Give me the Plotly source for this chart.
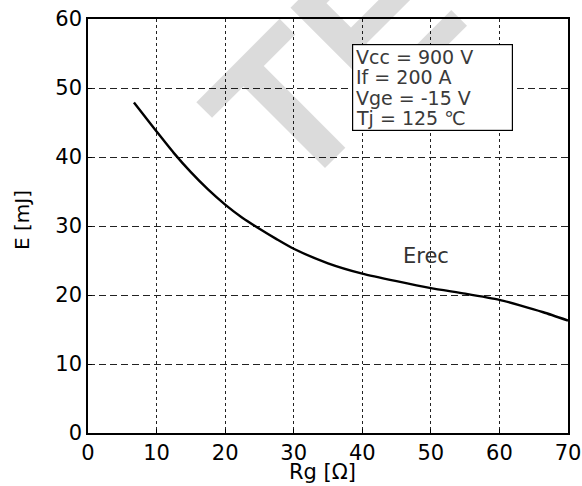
import plotly.graph_objects as go

# Data
rg = [6.7, 10, 12.5, 15, 17.5, 20, 22.5, 25, 27.5, 30, 35, 40, 45, 50, 55, 60, 63, 66.4, 70]
erec = [47.9, 43.7, 40.6, 37.8, 35.3, 33.1, 31.2, 29.6, 28.1, 26.7, 24.6, 23.1, 22.0, 21.0, 20.2, 19.3, 18.5, 17.5, 16.3]

x_ticks = [0, 10, 20, 30, 40, 50, 60, 70]
y_ticks = [0, 10, 20, 30, 40, 50, 60]
cond_lines = ["Vcc = 900 V", "If = 200 A", "Vge = -15 V", "Tj = 125 ℃"]
series_label = "Erec"
x_title = "Rg [Ω]"
y_title = "E [mJ]"

W, H = 582, 486
# plot area on screen: x 88..568, y 19..433
L, T = 88, 19
R = W - 568
B = H - 433
pw, ph = W - L - R, H - T - B


def px2paper(sx, sy):
    return (sx - L) / pw, (H - B - sy) / ph


FONT = "DejaVu Sans"

fig = go.Figure()
fig.add_trace(go.Scatter(
    x=rg, y=erec, mode="lines",
    line=dict(color="black", width=2.4, shape="spline", smoothing=0.6),
    showlegend=False, hoverinfo="skip",
))

annotations = []
# watermark (drawn first, semi-transparent)
wx, wy = px2paper(333, 61)
annotations.append(dict(
    text="<b>TE</b>", xref="paper", yref="paper", x=wx, y=wy,
    xanchor="center", yanchor="middle", showarrow=False, textangle=-45,
    font=dict(family="Liberation Sans", size=200, color="rgba(0,0,0,0.14)"),
))
# conditions box
bx, by = px2paper(351.7, 44)
annotations.append(dict(
    text=" ", xref="paper", yref="paper", x=bx, y=by, xanchor="left", yanchor="top",
    showarrow=False, width=159, height=85, bgcolor="white", bordercolor="black",
    borderwidth=1.2, borderpad=0, font=dict(size=10),
))
for i, line in enumerate(cond_lines):
    lx, ly = px2paper(354, 56.8 + 20.5 * i)
    annotations.append(dict(
        text=line, xref="paper", yref="paper", x=lx, y=ly, xanchor="left", yanchor="middle",
        showarrow=False, font=dict(family=FONT, size=19, color="#3a3a3a"),
    ))
ex, ey = px2paper(425.7, 256)
annotations.append(dict(
    text=series_label, xref="paper", yref="paper", x=ex, y=ey, xanchor="center", yanchor="middle",
    showarrow=False, font=dict(family=FONT, size=21, color="#333333"),
))
# axis titles
tx, ty = px2paper(322, 472)
annotations.append(dict(
    text=x_title, xref="paper", yref="paper", x=tx, y=ty, xanchor="center", yanchor="middle",
    showarrow=False, font=dict(family=FONT, size=21, color="black"),
))
tx, ty = px2paper(22, 220)
annotations.append(dict(
    text=y_title, xref="paper", yref="paper", x=tx, y=ty, xanchor="center", yanchor="middle",
    showarrow=False, textangle=-90, font=dict(family=FONT, size=20, color="black"),
))

axis_common = dict(
    showline=True, linecolor="black", linewidth=1.5, mirror=True,
    ticks="inside", ticklen=4, tickcolor="black", automargin=False,
    showgrid=True, gridcolor="#222222", gridwidth=1, zeroline=False,
    tickfont=dict(family=FONT, size=21, color="black"),
)

fig.update_layout(
    width=W, height=H,
    margin=dict(l=L, r=R, t=T, b=B, pad=0),
    paper_bgcolor="white", plot_bgcolor="white",
    xaxis=dict(range=[0, 70], tickvals=x_ticks, griddash="3px,3px", **axis_common),
    yaxis=dict(range=[0, 60], tickvals=y_ticks, griddash="7px,4px", **axis_common),
    annotations=annotations,
)

fig.write_html(
    "out.html",
    config={"displayModeBar": False},
    post_script="document.body.style.margin='0';document.body.style.overflow='hidden';",
)
